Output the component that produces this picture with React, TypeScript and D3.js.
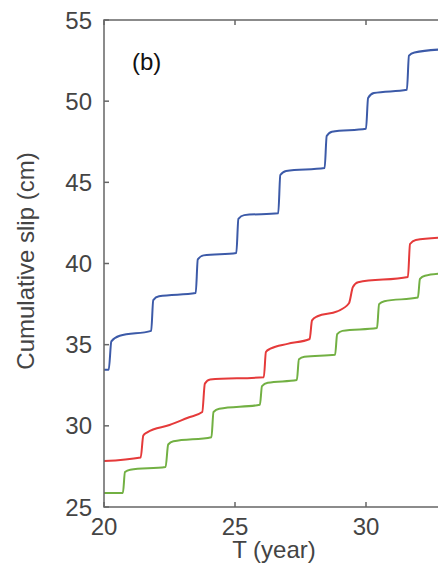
import React, { useEffect, useRef } from 'react';
import * as d3 from 'd3';

// time (year) and cumulative slip (cm)
const blueT = [20.0, 20.18, 20.28, 20.6, 21.8, 21.88, 22.1, 23.5, 23.58, 23.8, 25.05, 25.13, 25.35, 26.65, 26.73, 26.95, 28.42, 28.5, 28.7, 30.0, 30.08, 30.3, 31.56, 31.64, 31.85, 33.0];
const blueSlip = [33.45, 33.45, 35.2, 35.55, 35.85, 37.75, 37.98, 38.18, 40.25, 40.5, 40.65, 42.75, 42.98, 43.1, 45.45, 45.7, 45.88, 47.85, 48.12, 48.3, 50.2, 50.5, 50.7, 52.8, 53.0, 53.2];

const redT = [20.0, 21.4, 21.5, 21.65, 22.5, 23.2, 23.75, 23.85, 24.05, 26.1, 26.18, 26.35, 27.0, 27.85, 27.94, 28.15, 28.9, 29.35, 29.5, 29.7, 31.6, 31.68, 31.9, 33.0];
const redSlip = [27.83, 28.05, 29.4, 29.6, 30.05, 30.5, 30.85, 32.6, 32.85, 33.0, 34.55, 34.75, 35.05, 35.35, 36.5, 36.75, 37.05, 37.55, 38.55, 38.85, 39.17, 41.2, 41.45, 41.6];

const greenT = [20.0, 20.72, 20.8, 21.0, 22.35, 22.45, 22.65, 24.1, 24.18, 24.4, 25.95, 26.03, 26.25, 27.36, 27.44, 27.65, 28.82, 28.9, 29.1, 30.42, 30.5, 30.7, 31.98, 32.06, 32.25, 33.0];
const greenSlip = [25.86, 25.86, 27.15, 27.3, 27.46, 28.85, 29.05, 29.3, 30.85, 31.05, 31.3, 32.45, 32.65, 32.82, 34.1, 34.25, 34.38, 35.65, 35.85, 36.02, 37.5, 37.68, 37.9, 39.05, 39.25, 39.4];

const xTicks = [20, 25, 30];
const yTicks = [25, 30, 35, 40, 45, 50, 55];

const seriesList = [
    { t: blueT, slip: blueSlip, color: '#3c5aa8' },
    { t: redT, slip: redSlip, color: '#e53a3a' },
    { t: greenT, slip: greenSlip, color: '#72b043' },
];

export default function App() {
    const svgRef = useRef<SVGSVGElement>(null);

    const width = 438;
    const height = 566;
    const left = 104;
    const top = 20;
    const bottom = 507;

    useEffect(() => {
        const svg = d3.select(svgRef.current);
        svg.selectAll('*').remove();

        const x = d3.scaleLinear().domain([20, 35]).range([left, left + 15 * 26.2]);
        const y = d3.scaleLinear().domain([25, 55]).range([bottom, top]);
        const axisColor = '#666';
        const font = "'Liberation Sans', Arial, sans-serif";

        const line = d3.line<[number, number]>()
            .x(d => x(d[0]))
            .y(d => y(d[1]))
            .curve(d3.curveMonotoneX);

        seriesList.forEach(s => {
            const pts: [number, number][] = s.t.map((t, i) => [t, s.slip[i]]);
            svg.append('path')
                .attr('d', line(pts))
                .attr('fill', 'none')
                .attr('stroke', s.color)
                .attr('stroke-width', 2);
        });

        // frame (right part falls outside the crop)
        const xEnd = x(35);
        svg.append('path')
            .attr('d', `M${xEnd},${top}H${left}V${bottom}H${xEnd}`)
            .attr('fill', 'none')
            .attr('stroke', axisColor)
            .attr('stroke-width', 1.5);

        // x ticks (inward, bottom and top)
        xTicks.forEach(t => {
            svg.append('line')
                .attr('x1', x(t)).attr('x2', x(t))
                .attr('y1', bottom).attr('y2', bottom - 5)
                .attr('stroke', axisColor).attr('stroke-width', 1.5);
            svg.append('line')
                .attr('x1', x(t)).attr('x2', x(t))
                .attr('y1', top).attr('y2', top + 5)
                .attr('stroke', axisColor).attr('stroke-width', 1.5);
            svg.append('text')
                .attr('x', x(t))
                .attr('y', bottom + 28)
                .attr('text-anchor', 'middle')
                .attr('font-family', font)
                .attr('font-size', 24)
                .attr('fill', '#444')
                .text(t);
        });

        yTicks.forEach(v => {
            svg.append('line')
                .attr('x1', left).attr('x2', left + 5)
                .attr('y1', y(v)).attr('y2', y(v))
                .attr('stroke', axisColor).attr('stroke-width', 1.5);
            svg.append('text')
                .attr('x', 92)
                .attr('y', y(v) + 8.5)
                .attr('text-anchor', 'end')
                .attr('font-family', font)
                .attr('font-size', 24)
                .attr('fill', '#444')
                .text(v);
        });

        svg.append('text')
            .attr('transform', `translate(34, 261) rotate(-90)`)
            .attr('text-anchor', 'middle')
            .attr('font-family', font)
            .attr('font-size', 24)
            .attr('fill', '#444')
            .text('Cumulative slip (cm)');

        svg.append('text')
            .attr('x', 274)
            .attr('y', 558)
            .attr('text-anchor', 'middle')
            .attr('font-family', font)
            .attr('font-size', 24)
            .attr('fill', '#444')
            .text('T (year)');

        svg.append('text')
            .attr('x', 132)
            .attr('y', 70)
            .attr('font-family', font)
            .attr('font-size', 24)
            .attr('fill', '#111')
            .text('(b)');
    }, []);

    return (
        <svg ref={svgRef} width={width} height={height}
            style={{ position: 'absolute', left: 0, top: 0, background: '#fff' }} />
    );
}
